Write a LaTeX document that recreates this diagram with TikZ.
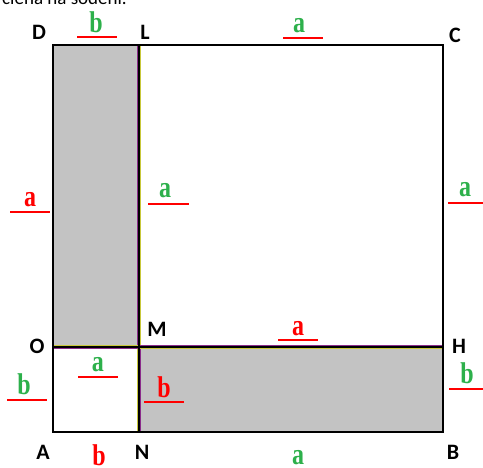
\documentclass[tikz,border=0pt]{standalone}
\usepackage{fontspec}
\usepackage{graphicx}
\setmainfont{Carlito}
\newfontfamily\varfont{Liberation Serif}
\newcommand\tallv[1]{\scalebox{1}[1.25]{#1}}
\definecolor{grn}{HTML}{2DB04B}
\definecolor{rd}{HTML}{FF0000}
\definecolor{fillgray}{HTML}{C3C3C3}
\definecolor{edgepurple}{HTML}{8A2B8A}
\definecolor{edgeyellow}{HTML}{C8C83A}
\begin{document}
\begin{tikzpicture}[x=1pt,y=-1pt,
  pt/.style={font=\fontsize{22}{22}\selectfont\bfseries, text=black, inner sep=0pt},
  gvar/.style={font=\varfont\fontsize{24}{24}\selectfont\bfseries, text=grn, inner sep=0pt, anchor=base},
  rvar/.style={font=\varfont\fontsize{24}{24}\selectfont\bfseries, text=rd, inner sep=0pt, anchor=base},
  uline/.style={draw=rd, line width=2.6pt},
  core/.style={draw=black, line width=1.4pt},
  pedge/.style={draw=edgepurple, line width=1pt},
  yedge/.style={draw=edgeyellow, line width=1pt},
  outer/.style={draw=black, line width=1.8pt}]
\useasboundingbox (0,0) rectangle (483,468);
% partial caption at top (clipped)
\begin{scope}
\clip (0,0) rectangle (483,468);
\node[anchor=base west, font=\fontsize{19}{19}\selectfont, inner sep=0pt] (cap) at (2,5) {ciena na sodeni.};
\end{scope}
% corner coordinates
\coordinate (A) at (53,432);
\coordinate (B) at (443,432);
\coordinate (C) at (443,45);
\coordinate (D) at (53,45);
\coordinate (L) at (139,45);
\coordinate (O) at (53,347);
\coordinate (M) at (139,347);
\coordinate (H) at (443,347);
\coordinate (N) at (139,432);
% shapes
\fill[fillgray] (D) rectangle (M);
\fill[fillgray] (M) rectangle (B);
% coloured edges beside the inner lines
\draw[pedge] ([xshift=-1.7pt]L) -- ([xshift=-1.7pt]M);
\draw[yedge] ([xshift=1.7pt]L) -- ([xshift=1.7pt]M);
\draw[yedge] ([xshift=-1.7pt]M) -- ([xshift=-1.7pt]N);
\draw[pedge] ([xshift=1.7pt]M) -- ([xshift=1.7pt]N);
\draw[pedge] ([yshift=-1.7pt]O) -- ([yshift=-1.7pt]M);
\draw[yedge] ([yshift=1.7pt]O) -- ([yshift=1.7pt]M);
\draw[yedge] ([yshift=-1.7pt]M) -- ([yshift=-1.7pt]H);
\draw[pedge] ([yshift=1.7pt]M) -- ([yshift=1.7pt]H);
% inner black lines
\draw[core] (L) -- (N);
\draw[core] (O) -- (H);
\draw[outer] (A) rectangle (C);
% point labels
\node[pt] (lD) at (39,32) {D};
\node[pt] (lL) at (145,32) {L};
\node[pt] (lC) at (455,35) {C};
\node[pt] (lO) at (37,346) {O};
\node[pt] (lM) at (157,329) {M};
\node[pt] (lH) at (459,346) {H};
\node[pt] (lA) at (43,452) {A};
\node[pt] (lN) at (142,452) {N};
\node[pt] (lB) at (453,452) {B};
% variable labels with underlines
\node[gvar] (t1) at (96,33) {\tallv{b}};
\draw[uline] (77,37) -- (117,37);
\node[gvar] (t2) at (299,33) {\tallv{a}};
\draw[uline] (283,38) -- (323,38);
\node[rvar] (t3) at (30,207) {\tallv{a}};
\draw[uline] (10,212) -- (50,212);
\node[gvar] (t4) at (165,198) {\tallv{a}};
\draw[uline] (148,204) -- (189,204);
\node[gvar] (t5) at (465,197) {\tallv{a}};
\draw[uline] (448,203) -- (483,203);
\node[rvar] (t6) at (298,336) {\tallv{a}};
\draw[uline] (278,340) -- (318,340);
\node[gvar] (t7) at (467,384) {\tallv{b}};
\draw[uline] (449,389) -- (483,389);
\node[rvar] (t8) at (164,398) {\tallv{b}};
\draw[uline] (144,402) -- (184,402);
\node[gvar] (t9) at (98,372) {\tallv{a}};
\draw[uline] (78,377) -- (118,377);
\node[gvar] (t10) at (24,395) {\tallv{b}};
\draw[uline] (7,400) -- (47,400);
\node[gvar] (t11) at (298,465) {\tallv{a}};
\node[rvar] (t12) at (99,466) {\tallv{b}};
\end{tikzpicture}
\end{document}
